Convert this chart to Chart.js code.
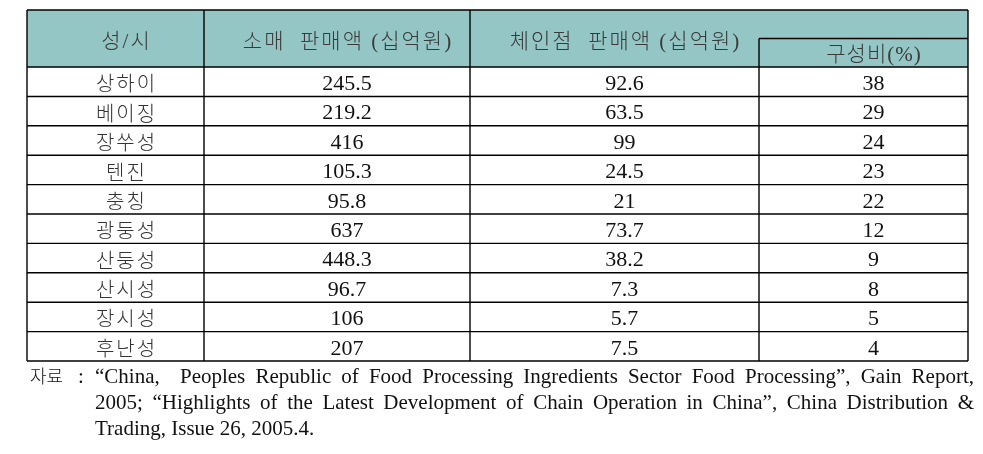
<!DOCTYPE html>
<html><head><meta charset="utf-8">
<script src="https://cdn.jsdelivr.net/npm/chart.js@4/dist/chart.umd.min.js"></script>
<style>html,body{margin:0;padding:0;background:#fff}#wrap{width:983px;height:454px;position:relative}</style>
</head><body><div id="wrap"><canvas id="c"></canvas></div>
<script>
// ---- data ----
const regions = ['상하이','베이징','장쑤성','텐진','충칭','광둥성','산둥성','산시성','장시성','후난성'];
const retailSales = [245.5, 219.2, 416, 105.3, 95.8, 637, 448.3, 96.7, 106, 207];
const chainSales = [92.6, 63.5, 99, 24.5, 21, 73.7, 38.2, 7.3, 5.7, 7.5];
const chainShare = [38, 29, 24, 23, 22, 12, 9, 8, 5, 4];
const headers = ['성/시', '소매  판매액 (십억원)', '체인점  판매액 (십억원)', '구성비(%)'];
const noteLabel = '자료';
const noteColon = ':';
const noteLines = [
  '“China,  Peoples Republic of Food Processing Ingredients Sector Food Processing”, Gain Report,',
  '2005; “Highlights of the Latest Development of Chain Operation in China”, China Distribution &',
  'Trading, Issue 26, 2005.4.'
];

// ---- layout (not data) ----
const COL_EDGES = [0, 177, 443, 732, 941];
const HEADER_UNITS = 1.94;
const TEXT_SHIFT = 10;
const SERIF = "'Liberation Serif', 'Noto Sans CJK KR', serif";
const KFONT = "'Noto Sans CJK KR', sans-serif";

function drawJustified(ctx, text, x0, x1, y, justify) {
  const toks = text.split(' ');
  const widths = toks.map(t => ctx.measureText(t).width);
  const total = widths.reduce((a, b) => a + b, 0);
  const gaps = toks.length - 1;
  const sp = justify && gaps > 0 ? (x1 - x0 - total) / gaps : ctx.measureText(' ').width;
  let x = x0;
  toks.forEach((t, i) => { ctx.fillText(t, x, y); x += widths[i] + sp; });
}
function spaced(ctx, text, x, y, ls) {
  ctx.letterSpacing = ls + 'px';
  ctx.fillText(text, x + ls / 2, y);
  ctx.letterSpacing = '0px';
}

const tablePlugin = {
  id: 'tablePlugin',
  afterDraw(chart) {
    const ctx = chart.ctx, xs = chart.scales.x, ys = chart.scales.y;
    const X = v => xs.getPixelForValue(v), Y = v => ys.getPixelForValue(v);
    const nRows = regions.length;
    const yEnd = HEADER_UNITS + nRows;
    ctx.save();
    ctx.fillStyle = '#93c6c5';
    ctx.fillRect(X(COL_EDGES[0]), Y(0), X(COL_EDGES[4]) - X(COL_EDGES[0]), Y(HEADER_UNITS) - Y(0));
    ctx.strokeStyle = '#000';
    ctx.lineWidth = 1.4;
    const line = (x0, y0, x1, y1) => { ctx.beginPath(); ctx.moveTo(x0, y0); ctx.lineTo(x1, y1); ctx.stroke(); };
    line(X(COL_EDGES[0]), Y(0), X(COL_EDGES[4]), Y(0));
    line(X(COL_EDGES[3]), Y(HEADER_UNITS / 2), X(COL_EDGES[4]), Y(HEADER_UNITS / 2));
    for (let r = 0; r <= nRows; r++) line(X(COL_EDGES[0]), Y(HEADER_UNITS + r), X(COL_EDGES[4]), Y(HEADER_UNITS + r));
    line(X(COL_EDGES[0]), Y(0), X(COL_EDGES[0]), Y(yEnd));
    line(X(COL_EDGES[1]), Y(0), X(COL_EDGES[1]), Y(yEnd));
    line(X(COL_EDGES[2]), Y(0), X(COL_EDGES[2]), Y(yEnd));
    line(X(COL_EDGES[3]), Y(HEADER_UNITS / 2), X(COL_EDGES[3]), Y(yEnd));
    line(X(COL_EDGES[4]), Y(0), X(COL_EDGES[4]), Y(yEnd));
    // header text
    ctx.textAlign = 'center';
    ctx.textBaseline = 'middle';
    ctx.fillStyle = '#3a3a3a';
    const cx = c => (X(COL_EDGES[c]) + X(COL_EDGES[c + 1])) / 2 + TEXT_SHIFT;
    ctx.font = "300 21px 'Liberation Serif', 'Noto Sans CJK KR'";
    spaced(ctx, headers[0], cx(0), Y(HEADER_UNITS / 2) + 4, 2);
    spaced(ctx, headers[1], cx(1), Y(HEADER_UNITS / 2) + 4, 2);
    spaced(ctx, headers[2], cx(2), Y(HEADER_UNITS / 2) + 4, 2);
    spaced(ctx, headers[3], cx(3), Y(HEADER_UNITS * 0.75) + 3, 1);
    // rows
    for (let r = 0; r < nRows; r++) {
      const yc = Y(HEADER_UNITS + r + 0.5);
      ctx.fillStyle = '#333';
      ctx.font = '300 20px ' + KFONT;
      spaced(ctx, regions[r], cx(0), yc + 2, 2);
      ctx.fillStyle = '#111';
      ctx.font = '22px ' + SERIF;
      ctx.fillText(String(retailSales[r]), cx(1), yc + 2.5);
      ctx.fillText(String(chainSales[r]), cx(2), yc + 2.5);
      ctx.fillText(String(chainShare[r]), cx(3), yc + 2.5);
    }
    // footnote
    ctx.textAlign = 'left';
    ctx.textBaseline = 'alphabetic';
    ctx.fillStyle = '#111';
    const baseY = Y(yEnd) + 22;
    ctx.font = '300 18px ' + KFONT;
    ctx.fillText(noteLabel, 30, baseY);
    ctx.font = '21px ' + SERIF;
    ctx.fillText(noteColon, 78, baseY);
    noteLines.forEach((t, i) => drawJustified(ctx, t, 95, 974, baseY + i * 26, i < noteLines.length - 1));
    ctx.restore();
  }
};

new Chart(document.getElementById('c'), {
  type: 'scatter',
  data: { datasets: [{ data: [], pointRadius: 0 }] },
  options: {
    responsive: true, maintainAspectRatio: false, animation: false,
    layout: { padding: { left: 27, right: 15, top: 10, bottom: 93 } },
    plugins: { legend: { display: false }, tooltip: { enabled: false } },
    scales: {
      x: { type: 'linear', display: false, min: COL_EDGES[0], max: COL_EDGES[4] },
      y: { type: 'linear', display: false, reverse: true, min: 0, max: HEADER_UNITS + regions.length }
    }
  },
  plugins: [tablePlugin]
});
</script></body></html>
